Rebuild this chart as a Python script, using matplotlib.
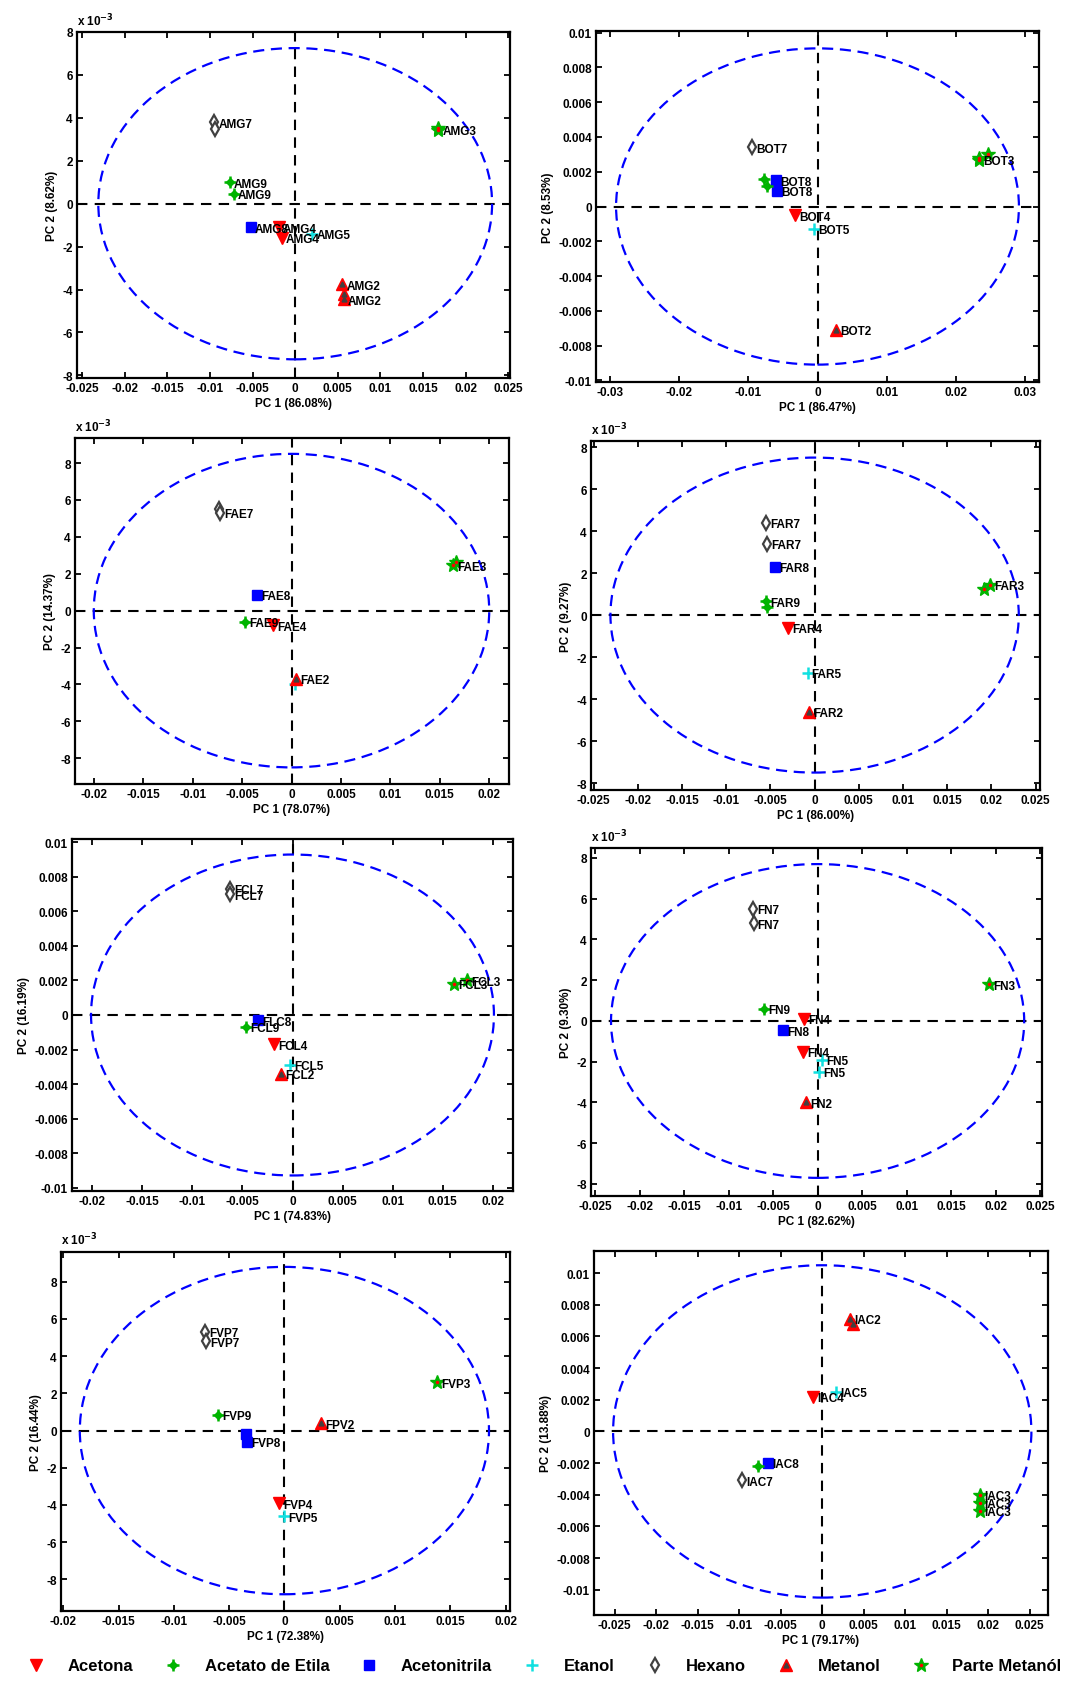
import matplotlib
matplotlib.use('Agg')
import matplotlib.pyplot as plt
from matplotlib.patches import Ellipse
from matplotlib.ticker import MultipleLocator, FuncFormatter
from matplotlib.legend_handler import HandlerTuple

plt.rcParams['font.family'] = ['Liberation Sans', 'DejaVu Sans']
plt.rcParams['font.weight'] = 'bold'
plt.rcParams['axes.labelweight'] = 'bold'

W, H = 1066, 1683

# solvent codes: 0 Acetona, 1 Acetato de Etila, 2 Acetonitrila, 3 Etanol,
# 4 Hexano, 5 Metanol, 6 Parte Metanol
solvents = ['Acetona', 'Acetato de Etila', 'Acetonitrila', 'Etanol',
            'Hexano', 'Metanol', 'Parte Metanól']

# (solvent, PC1, PC2, label)
amg_points = [(4, -0.0095, 3.8e-3, 'AMG7'), (4, -0.0094, 3.5e-3, ''),
              (6, 0.0167, 3.55e-3, ''), (6, 0.0168, 3.45e-3, 'AMG3'),
              (1, -0.0077, 1.0e-3, 'AMG9'), (1, -0.0072, 0.45e-3, 'AMG9'),
              (2, -0.0052, -1.1e-3, 'AMG8'), (0, -0.0019, -1.1e-3, 'AMG4'),
              (0, -0.0016, -1.6e-3, 'AMG4'), (3, 0.0020, -1.4e-3, 'AMG5'),
              (5, 0.0055, -3.75e-3, 'AMG2'), (5, 0.0057, -4.2e-3, ''),
              (5, 0.0057, -4.45e-3, 'AMG2')]
bot_points = [(4, -0.0095, 0.0034, 'BOT7'), (6, 0.0233, 0.0028, ''),
              (6, 0.0247, 0.0030, ''), (6, 0.0234, 0.0027, 'BOT3'),
              (1, -0.0077, 0.0016, ''), (1, -0.0073, 0.0012, ''),
              (2, -0.0060, 0.0015, 'BOT8'), (2, -0.0058, 0.0009, 'BOT8'),
              (0, -0.0033, -0.0005, 'BOT4'), (3, -0.0005, -0.0013, 'BOT5'),
              (5, 0.0027, -0.0071, 'BOT2')]
fae_points = [(4, -0.0073, 5.5e-3, ''), (4, -0.0072, 5.3e-3, 'FAE7'),
              (6, 0.0163, 2.45e-3, 'FAE3'), (6, 0.0166, 2.65e-3, ''),
              (2, -0.0035, 0.85e-3, 'FAE8'), (1, -0.0047, -0.6e-3, 'FAE9'),
              (0, -0.0019, -0.8e-3, 'FAE4'), (3, 0.0004, -4.0e-3, ''),
              (5, 0.0005, -3.7e-3, 'FAE2')]
far_points = [(4, -0.0055, 4.4e-3, 'FAR7'), (4, -0.0054, 3.4e-3, 'FAR7'),
              (2, -0.0045, 2.3e-3, 'FAR8'), (1, -0.0055, 0.65e-3, 'FAR9'),
              (1, -0.0054, 0.4e-3, ''), (6, 0.0192, 1.25e-3, ''),
              (6, 0.0198, 1.45e-3, 'FAR3'), (0, -0.0030, -0.6e-3, 'FAR4'),
              (3, -0.0008, -2.75e-3, 'FAR5'), (5, -0.0006, -4.6e-3, 'FAR2')]
fcl_points = [(4, -0.0062, 0.0073, 'FCL7'), (4, -0.0062, 0.0070, 'FCL7'),
              (6, 0.0174, 0.0020, 'FCL3'), (6, 0.0161, 0.0018, 'FCL3'),
              (2, -0.0034, -0.0003, 'FLC8'), (1, -0.0046, -0.0007, 'FCL9'),
              (0, -0.0018, -0.0017, 'FCL4'), (3, -0.0002, -0.0029, 'FCL5'),
              (5, -0.0011, -0.0034, 'FCL2')]
fn_points = [(4, -0.0073, 5.5e-3, 'FN7'), (4, -0.0072, 4.8e-3, 'FN7'),
             (6, 0.0193, 1.8e-3, 'FN3'), (1, -0.0060, 0.6e-3, 'FN9'),
             (0, -0.0015, 0.1e-3, 'FN4'), (2, -0.0039, -0.45e-3, 'FN8'),
             (0, -0.0016, -1.5e-3, 'FN4'), (3, 0.0005, -1.9e-3, 'FN5'),
             (3, 0.0002, -2.5e-3, 'FN5'), (5, -0.0013, -4.0e-3, 'FN2')]
fvp_points = [(4, -0.0072, 5.3e-3, 'FVP7'), (4, -0.0071, 4.8e-3, 'FVP7'),
              (6, 0.0138, 2.6e-3, 'FVP3'), (1, -0.0060, 0.85e-3, 'FVP9'),
              (5, 0.0033, 0.4e-3, 'FPV2'), (2, -0.0035, -0.2e-3, ''),
              (2, -0.0034, -0.6e-3, 'FVP8'), (0, -0.0005, -3.9e-3, 'FVP4'),
              (3, 0.0000, -4.6e-3, 'FVP5')]
iac_points = [(5, 0.0033, 0.0071, 'IAC2'), (5, 0.0037, 0.0068, ''),
              (0, -0.0011, 0.0022, 'IAC4'), (3, 0.0017, 0.0025, 'IAC5'),
              (2, -0.0065, -0.0020, 'IAC8'), (1, -0.0078, -0.0022, ''),
              (4, -0.0097, -0.0031, 'IAC7'), (6, 0.0190, -0.0040, 'IAC3'),
              (6, 0.0190, -0.0045, 'IAC3'), (6, 0.0190, -0.0050, 'IAC3')]

pc1_labels = ['PC 1 (86.08%)', 'PC 1 (86.47%)', 'PC 1 (78.07%)', 'PC 1 (86.00%)',
              'PC 1 (74.83%)', 'PC 1 (82.62%)', 'PC 1 (72.38%)', 'PC 1 (79.17%)']
pc2_labels = ['PC 2 (8.62%)', 'PC 2 (8.53%)', 'PC 2 (14.37%)', 'PC 2 (9.27%)',
              'PC 2 (16.19%)', 'PC 2 (9.30%)', 'PC 2 (16.44%)', 'PC 2 (13.88%)']
# confidence ellipse semi-axes (PC1, PC2)
ellipse_a = [0.0231, 0.0291, 0.0200, 0.0231, 0.0201, 0.0232, 0.0185, 0.0252]
ellipse_b = [7.25e-3, 0.0091, 8.5e-3, 7.5e-3, 0.0093, 7.7e-3, 8.8e-3, 0.0105]

panels = [amg_points, bot_points, fae_points, far_points,
          fcl_points, fn_points, fvp_points, iac_points]

# axes boxes in pixels: left, right, top, bottom
boxes = [(77, 510, 33, 379), (596, 1039, 32, 383),
         (75, 509, 439, 785), (591, 1040, 442, 791),
         (72, 513, 840, 1192), (591, 1042, 849, 1197),
         (61, 510, 1253, 1612), (594, 1048, 1252, 1616)]
xlims = [(-0.0256, 0.0252), (-0.032, 0.032), (-0.0219, 0.022), (-0.0253, 0.0255),
         (-0.022, 0.022), (-0.02545, 0.0252), (-0.0202, 0.0204), (-0.0275, 0.0272)]
ylims = [(-8.12e-3, 8.0e-3), (-0.0101, 0.0101), (-9.4e-3, 9.36e-3), (-8.33e-3, 8.29e-3),
         (-0.0102, 0.0102), (-8.59e-3, 8.49e-3), (-9.7e-3, 9.6e-3), (-0.0116, 0.0114)]
xsteps = [0.005, 0.01, 0.005, 0.005, 0.005, 0.005, 0.005, 0.005]
ysteps = [2e-3, 0.002, 2e-3, 2e-3, 0.002, 2e-3, 2e-3, 0.002]
milli = [True, False, True, True, False, True, True, False]

green = '#00b400'
cyan = '#10e0e0'
styles = {
    0: [dict(marker='v', ms=9, mfc='red', mec='red')],
    1: [dict(marker='D', ms=4.5, mfc=green, mec=green),
        dict(marker='+', ms=8, mec=green, mew=1.8)],
    2: [dict(marker='s', ms=7, mfc='blue', mec='blue')],
    3: [dict(marker='+', ms=8, mec=cyan, mew=1.8)],
    4: [dict(marker='d', ms=7, mfc='white', mec='#404040', mew=1.6)],
    5: [dict(marker='^', ms=9, mfc='red', mec='red'),
        dict(marker='^', ms=3.5, mfc='#404040', mec='#404040')],
    6: [dict(marker='*', ms=10, mfc=green, mec=green),
        dict(marker='.', ms=3, mfc='red', mec='red')],
}


def fmt_plain(v, pos):
    v = round(v, 6)
    return '0' if abs(v) < 1e-12 else '%g' % v


def fmt_milli(v, pos):
    v = round(v * 1e3, 6)
    return '0' if abs(v) < 1e-12 else '%g' % v


fig = plt.figure(figsize=(W / 100, H / 100), dpi=100)

for i, pts in enumerate(panels):
    l, r, t, b = boxes[i]
    ax = fig.add_axes([l / W, 1 - b / H, (r - l) / W, (b - t) / H])
    ax.axhline(0, color='k', ls=(0, (5, 3.5)), lw=1.5, zorder=1)
    ax.axvline(0, color='k', ls=(0, (5, 3.5)), lw=1.5, zorder=1)
    ax.add_patch(Ellipse((0, 0), 2 * ellipse_a[i], 2 * ellipse_b[i], fill=False,
                         ec='blue', ls=(0, (5, 3)), lw=1.6, zorder=1))
    for code, layers in styles.items():
        xs = [p[1] for p in pts if p[0] == code]
        ys = [p[2] for p in pts if p[0] == code]
        if not xs:
            continue
        for k, st in enumerate(layers):
            ax.plot(xs, ys, ls='none', zorder=3 + k, **st)
    for code, x, y, lab in pts:
        if lab:
            ax.annotate(lab, (x, y), xytext=(3, -1), textcoords='offset points',
                        va='center', ha='left', fontsize=8.5, fontweight='bold',
                        zorder=6)
    ax.set_xlim(*xlims[i])
    ax.set_ylim(*ylims[i])
    ax.xaxis.set_major_locator(MultipleLocator(xsteps[i]))
    ax.yaxis.set_major_locator(MultipleLocator(ysteps[i]))
    ax.xaxis.set_major_formatter(FuncFormatter(fmt_plain))
    ax.yaxis.set_major_formatter(FuncFormatter(fmt_milli if milli[i] else fmt_plain))
    if milli[i]:
        ax.text(0.0, 1.012, r'x 10$^{-3}$', transform=ax.transAxes,
                ha='left', va='bottom', fontsize=8.5, fontweight='bold')
    ax.tick_params(direction='in', top=True, right=True, length=4, width=1.3,
                   labelsize=8.5, pad=3)
    for s in ax.spines.values():
        s.set_linewidth(1.6)
    ax.set_xlabel(pc1_labels[i], fontsize=8.5, labelpad=2)
    ax.set_ylabel(pc2_labels[i], fontsize=8.5, labelpad=3)

# legend along the bottom
handles = []
for code in range(7):
    parts = []
    for st in styles[code]:
        h, = plt.plot([], [], ls='none', **st)
        parts.append(h)
    handles.append(tuple(parts))
fig.legend(handles, solvents, loc='center left', bbox_to_anchor=(0.024, 1 - 1667 / H),
           ncol=7, frameon=False, fontsize=12, handlelength=1.2,
           handletextpad=1.3, columnspacing=1.8, borderpad=0, borderaxespad=0,
           handler_map={tuple: HandlerTuple(ndivide=1)})

fig.savefig('out.png', dpi=100)
